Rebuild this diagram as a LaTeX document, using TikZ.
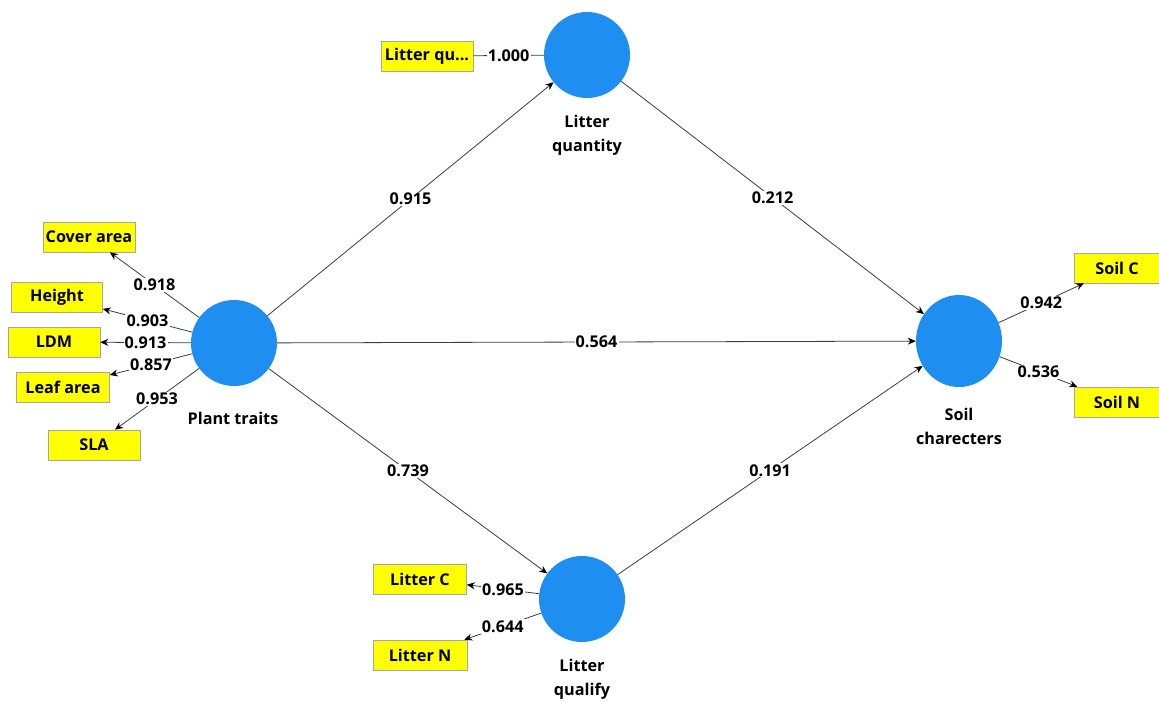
\documentclass[tikz,border=0pt]{standalone}
\usepackage{fontspec}
\setmainfont{Open Sans}
\usetikzlibrary{arrows.meta,shapes.geometric}
\definecolor{lvblue}{RGB}{30,142,240}
\definecolor{indyellow}{RGB}{255,255,0}
\definecolor{edgegray}{RGB}{60,60,60}
\tikzset{
  latent/.style={circle,fill=lvblue,draw=none,minimum size=86pt,inner sep=0pt},
  indbox/.style={rectangle,fill=indyellow,draw=black!35,line width=0.6pt,
    minimum height=30pt,inner sep=0pt,font=\fontsize{16.2}{19}\selectfont\bfseries},
  lvname/.style={align=center,font=\fontsize{16.2}{24}\selectfont\bfseries},
  coef/.style={fill=white,inner sep=1.2pt,font=\fontsize{16.2}{19}\selectfont\bfseries},
  path/.style={draw=edgegray,line width=0.8pt,-{Stealth[length=8pt,width=7pt,color=black]}},
  plain/.style={draw=edgegray,line width=0.8pt}
}
\begin{document}
\begin{tikzpicture}[x=1pt,y=-1pt]
\useasboundingbox (0,0) rectangle (1159,702);

% latent variables
\node[latent] (pt) at (234,343) {};
\node[latent] (lq) at (587,55) {};
\node[latent] (lql) at (582,599) {};
\node[latent,ellipse,minimum width=86pt,minimum height=92pt] (sc) at (959,341) {};

\node[lvname] (ptname) at (233,418) {Plant traits};
\node[lvname] (lqname) at (587,135) {Litter\\quantity};
\node[lvname] (lqlname) at (582,679) {Litter\\qualify};
\node[lvname] (scname) at (959,426) {Soil\\charecters};

% indicators
\node[indbox,minimum width=92pt] (cover) at (89,237) {Cover area};
\node[indbox,minimum width=91pt] (height) at (57,297) {Height};
\node[indbox,minimum width=92pt] (ldm) at (54,342) {LDM};
\node[indbox,minimum width=93pt] (leaf) at (63,387) {Leaf area};
\node[indbox,minimum width=92pt] (sla) at (94,445) {SLA};
\node[indbox,minimum width=92pt] (lqind) at (427,56) {Litter qu...};
\node[indbox,minimum width=93pt] (litc) at (420,579) {Litter C};
\node[indbox,minimum width=94pt] (litn) at (420,655) {Litter N};
\node[indbox,minimum width=86pt] (soilc) at (1117,268) {Soil C};
\node[indbox,minimum width=86pt] (soiln) at (1117,402) {Soil N};

% outer loadings
\draw[path] (pt) -- node[coef] {0.918} (cover);
\draw[path] (pt) -- node[coef] {0.903} (height);
\draw[path] (pt) -- node[coef] {0.913} (ldm);
\draw[path] (pt) -- node[coef] {0.857} (leaf);
\draw[path] (pt) -- node[coef] {0.953} (sla);
\draw[plain] (lq) -- node[coef] {1.000} (lqind);
\draw[path] (lql) -- node[coef] {0.965} (litc);
\draw[path] (lql) -- node[coef] {0.644} (litn);
\draw[path] (sc) -- node[coef] {0.942} (soilc);
\draw[path] (sc) -- node[coef] {0.536} (soiln);

% inner path coefficients
\draw[path] (pt) -- node[coef] {0.915} (lq);
\draw[path] (lq) -- node[coef] {0.212} (sc);
\draw[path] (pt) -- node[coef] {0.564} (sc);
\draw[path] (pt) -- node[coef] {0.739} (lql);
\draw[path] (lql) -- node[coef] {0.191} (sc);
\end{tikzpicture}
\end{document}
